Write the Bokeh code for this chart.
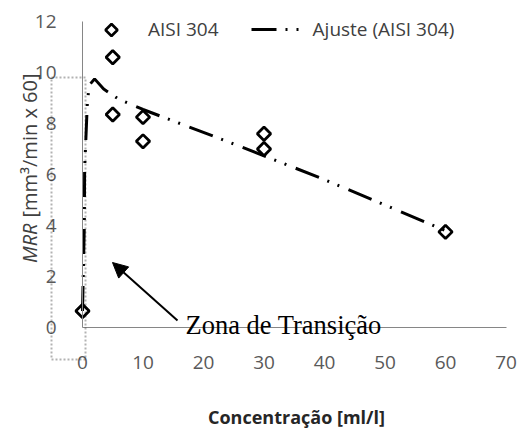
import math
from bokeh.plotting import figure
from bokeh.models import (Range1d, LinearAxis, FixedTicker, Legend, LegendItem,
                          Label, Arrow, NormalHead, BoxAnnotation)
from bokeh.embed import file_html
from bokeh.resources import INLINE

# ---- data ----
conc = [0, 5, 5, 10, 10, 30, 30, 60]
mrr = [0.65, 10.6, 8.35, 8.25, 7.3, 7.6, 7.0, 3.75]

fit_x = [0.0, 0.3, 0.35, 0.8, 1.1, 2.0, 3.5, 6.0, 10.0, 25.0, 40.0, 60.0]
fit_y = [0.65, 4.0, 6.2, 8.8, 9.5, 9.75, 9.35, 8.95, 8.55, 7.2, 5.8, 3.8]

x_ticks = [0, 10, 20, 30, 40, 50, 60, 70]
y_ticks = [0, 2, 4, 6, 8, 10, 12]

series_name = "AISI 304"
fit_name = "Ajuste (AISI 304)"
x_title = "Concentração [ml/l]"
y_title_italic = "MRR"
y_title_rest = "[mm³/min x 60]"
note_text = "Zona de Transição"

W, H = 521, 428
X0, XS = 82, 6.05     # pixel of x=0, pixels per unit
Y0, YS = 327, 25.5    # pixel of y=0, pixels per unit


def dx(px):
    return (px - X0) / XS


def dy(py):
    return (Y0 - py) / YS


p = figure(width=W, height=H, output_backend="svg", toolbar_location=None,
           x_range=Range1d(dx(0), dx(W)), y_range=Range1d(dy(H), dy(0)),
           x_axis_type=None, y_axis_type=None, min_border=0)
p.outline_line_color = None
p.grid.visible = False
p.background_fill_color = "white"
p.border_fill_color = "white"

TICK_FONT = "Open Sans"
TICK_COLOR = "#595959"

xa = LinearAxis(ticker=FixedTicker(ticks=x_ticks), fixed_location=0, bounds=(0, 70))
ya = LinearAxis(ticker=FixedTicker(ticks=y_ticks), fixed_location=0, bounds=(0, 12))
for ax in (xa, ya):
    ax.axis_line_color = "#868686"
    ax.axis_line_width = 1
    ax.major_tick_line_color = None
    ax.minor_tick_line_color = None
    ax.major_label_text_font = TICK_FONT
    ax.major_label_text_font_size = "19px"
    ax.major_label_text_color = TICK_COLOR
xa.major_label_standoff = 22
ya.major_label_standoff = 20
p.add_layout(xa, "below")
p.add_layout(ya, "left")

# dotted "transition zone" box
p.add_layout(BoxAnnotation(left=dx(51), right=dx(85), top=dy(77), bottom=dy(359),
                           fill_alpha=0, line_color="black", line_width=2,
                           line_dash="2 2"))

fit = p.line(fit_x, fit_y, line_color="black", line_width=3,
             line_dash="25 9 2 9 2 10")
MARK = dict(marker="square", size=9.5, angle=math.pi / 4,
            fill_color=None, line_color="black", line_width=2.8)
pts = p.scatter(conc, mrr, **MARK)

# legend: the key of the markers is drawn as a rotated square at the key's place
dummy = p.scatter([], [], marker="square", size=0, line_alpha=0, fill_alpha=0)
legend = Legend(items=[LegendItem(label=series_name, renderers=[dummy]),
                       LegendItem(label=fit_name, renderers=[fit])],
                orientation="horizontal", location=(86, 386),
                glyph_width=50, glyph_height=26, label_standoff=12, spacing=32,
                padding=0, margin=0, border_line_color=None,
                background_fill_alpha=0, label_text_font=TICK_FONT,
                label_text_font_size="19px", label_text_color="#404040")
p.add_layout(legend, "center")
key = dict(MARK)
key["size"] = 8.5
key["line_width"] = 2.6
p.scatter([dx(111)], [dy(29.5)], **key)

p.add_layout(Arrow(end=NormalHead(size=15, fill_color="black", line_color="black"),
                   x_start=dx(177), y_start=dy(320), x_end=dx(112), y_end=dy(262),
                   line_color="black", line_width=2))

p.add_layout(Label(x=dx(185), y=dy(324), text=note_text, text_font="Liberation Serif",
                   text_font_size="26.5px", text_color="black",
                   text_baseline="alphabetic", text_align="left"))

p.add_layout(Label(x=dx(296), y=dy(416), text=x_title, text_font=TICK_FONT,
                   text_font_size="18px", text_font_style="bold", text_color="#262626",
                   text_align="center", text_baseline="middle"))

p.add_layout(Label(x=dx(29), y=dy(223), text=y_title_italic, angle=math.pi / 2,
                   text_font=TICK_FONT, text_font_size="20px", text_font_style="italic",
                   text_color="#404040", text_align="right", text_baseline="alphabetic"))
p.add_layout(Label(x=dx(29), y=dy(217), text=y_title_rest, angle=math.pi / 2,
                   text_font=TICK_FONT, text_font_size="20px",
                   text_color="#404040", text_align="left", text_baseline="alphabetic"))

open("out.html", "w").write(file_html(p, INLINE))
